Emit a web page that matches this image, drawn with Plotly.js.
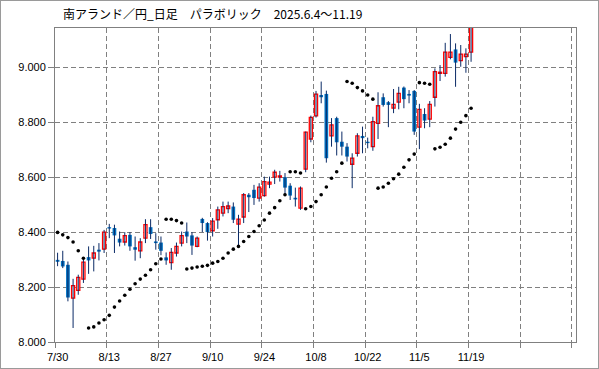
<!DOCTYPE html>
<html><head><meta charset="utf-8">
<script src="https://cdn.plot.ly/plotly-3.0.1.min.js"></script>
<style>html,body{margin:0;padding:0;background:#fff;}#chart{width:597px;height:367px;border:1px solid #9a9a9a;}</style>
</head><body><div id="chart"></div><script>
const OPEN  = [8.299,8.295,8.281,8.160,8.188,8.229,8.309,8.305,8.336,8.338,8.418,8.415,8.376,8.364,8.390,8.345,8.332,8.378,8.418,8.366,8.362,8.308,8.289,8.324,8.360,8.402,8.388,8.348,8.448,8.433,8.405,8.445,8.469,8.486,8.493,8.429,8.455,8.536,8.554,8.524,8.533,8.575,8.600,8.600,8.600,8.569,8.525,8.487,8.629,8.739,8.823,8.899,8.903,8.750,8.815,8.729,8.711,8.647,8.687,8.750,8.729,8.711,8.796,8.891,8.873,8.851,8.873,8.926,8.903,8.914,8.782,8.830,8.811,8.891,8.978,8.978,9.036,9.065,9.024,9.039,9.055];
const HIGH  = [8.325,8.332,8.293,8.230,8.245,8.309,8.348,8.350,8.360,8.408,8.430,8.427,8.402,8.400,8.400,8.384,8.378,8.447,8.447,8.396,8.384,8.326,8.342,8.362,8.402,8.435,8.400,8.384,8.452,8.436,8.451,8.493,8.511,8.511,8.508,8.463,8.542,8.542,8.572,8.578,8.602,8.602,8.627,8.623,8.615,8.578,8.562,8.566,8.766,8.824,8.914,8.948,8.915,8.815,8.820,8.766,8.724,8.687,8.760,8.784,8.744,8.820,8.909,8.905,8.877,8.921,8.929,8.930,8.917,8.917,8.867,8.851,8.877,8.996,9.008,9.089,9.121,9.087,9.081,9.069,9.180];
const LOW   = [8.276,8.269,8.148,8.051,8.172,8.215,8.248,8.257,8.297,8.324,8.378,8.324,8.348,8.351,8.332,8.296,8.305,8.360,8.375,8.336,8.316,8.281,8.263,8.311,8.348,8.360,8.317,8.345,8.400,8.369,8.384,8.412,8.457,8.469,8.433,8.350,8.433,8.473,8.499,8.511,8.529,8.560,8.575,8.584,8.532,8.517,8.493,8.481,8.618,8.727,8.817,8.869,8.653,8.711,8.679,8.679,8.657,8.560,8.675,8.687,8.705,8.696,8.739,8.857,8.782,8.833,8.847,8.851,8.869,8.754,8.702,8.778,8.782,8.857,8.950,8.966,9.029,8.929,9.002,8.980,9.020];
const CLOSE = [8.292,8.275,8.162,8.205,8.235,8.291,8.297,8.324,8.329,8.400,8.413,8.388,8.362,8.387,8.348,8.336,8.364,8.427,8.393,8.360,8.332,8.297,8.326,8.348,8.387,8.384,8.351,8.378,8.433,8.400,8.440,8.481,8.493,8.495,8.445,8.447,8.536,8.527,8.524,8.564,8.584,8.582,8.618,8.605,8.562,8.533,8.519,8.560,8.764,8.818,8.902,8.891,8.669,8.790,8.727,8.711,8.675,8.669,8.750,8.742,8.724,8.802,8.860,8.863,8.863,8.865,8.905,8.884,8.897,8.766,8.847,8.806,8.865,8.984,8.982,9.055,9.055,9.017,9.048,9.048,9.170];
const SAR   = [8.399,8.390,8.380,8.364,8.332,8.305,8.051,8.055,8.069,8.081,8.097,8.127,8.149,8.170,8.192,8.212,8.229,8.243,8.263,8.285,8.302,8.447,8.447,8.442,8.433,8.266,8.269,8.273,8.276,8.279,8.287,8.293,8.305,8.324,8.338,8.348,8.366,8.384,8.402,8.423,8.444,8.469,8.489,8.514,8.536,8.620,8.620,8.615,8.485,8.493,8.511,8.536,8.564,8.596,8.620,8.651,8.948,8.942,8.926,8.914,8.899,8.884,8.560,8.564,8.578,8.594,8.611,8.636,8.663,8.684,8.944,8.942,8.938,8.703,8.709,8.720,8.742,8.775,8.800,8.824,8.851];
const TICK_LABELS = ["7/30","8/13","8/27","9/10","9/24","10/8","10/22","11/5","11/19"];
const TICK_INDEX  = [0,10,20,30,40,50,60,70,80];
const Y_TICKS = [8.0,8.2,8.4,8.6,8.8,9.0];

const idx = OPEN.map((_, i) => i);
const up = idx.map(i => CLOSE[i] >= OPEN[i]);
const minH = 0.0025;
const upBase = idx.map(i => up[i] ? OPEN[i] : null);
const upLen  = idx.map(i => up[i] ? Math.max(CLOSE[i]-OPEN[i], minH) : null);
const dnBase = idx.map(i => !up[i] ? CLOSE[i] : null);
const dnLen  = idx.map(i => !up[i] ? Math.max(OPEN[i]-CLOSE[i], minH) : null);
const wx = [], wy = [];
idx.forEach(i => { wx.push(i, i, null); wy.push(LOW[i], HIGH[i], null); });

const traces = [
  {type:'scatter', mode:'lines', x:wx, y:wy, line:{color:'#0a2a66', width:1}, hoverinfo:'skip', showlegend:false},
  {type:'bar', x:idx, base:dnBase, y:dnLen, width:0.72, marker:{color:'#0070c0', line:{width:0}}, showlegend:false},
  {type:'bar', x:idx, base:upBase, y:upLen, width:0.6, marker:{color:'#ffffff', line:{color:'#ff0000', width:1.3}}, showlegend:false},
  {type:'scatter', mode:'markers', x:idx, y:SAR, marker:{color:'#000000', size:3.6}, showlegend:false}
];

const tickFont = {family:'Liberation Sans, Arial, sans-serif', size:11, color:'#000'};
const layout = {
  width:597, height:367,
  margin:{l:54, r:22, t:27, b:26},
  paper_bgcolor:'#fff', plot_bgcolor:'#fff',
  barmode:'overlay', showlegend:false,
  title:{text:'南アランド／円_日足　パラボリック　2025.6.4～11.19', font:{family:'Noto Sans CJK JP', size:12, color:'#000'},
         xref:'container', yref:'container', x:62/597, xanchor:'left', y:1-14/367, yanchor:'middle'},
  xaxis:{range:[-0.5,100.3], tickmode:'array', tickvals:TICK_INDEX, ticktext:TICK_LABELS, showgrid:false, zeroline:false,
         ticks:'outside', ticklen:5, tickcolor:'rgba(0,0,0,0)', tickfont:tickFont,
         showline:true, linecolor:'#808080', linewidth:1, mirror:true,
         minor:{tickmode:'linear', tick0:-0.5, dtick:10, showgrid:true, gridcolor:'#808080', griddash:'5px,3px', gridwidth:1, ticks:'outside', ticklen:5, tickcolor:'#808080'}},
  yaxis:{range:[8.0,9.143], tickmode:'array', tickvals:Y_TICKS, tickformat:'.3f', showgrid:true, gridcolor:'#808080', griddash:'5px,3px', gridwidth:1,
         zeroline:false, ticks:'outside', ticklen:6, tickcolor:'#808080', tickfont:tickFont,
         showline:true, linecolor:'#808080', linewidth:1, mirror:true}
};
Plotly.newPlot('chart', traces, layout, {displayModeBar:false, staticPlot:true});
</script></body></html>
